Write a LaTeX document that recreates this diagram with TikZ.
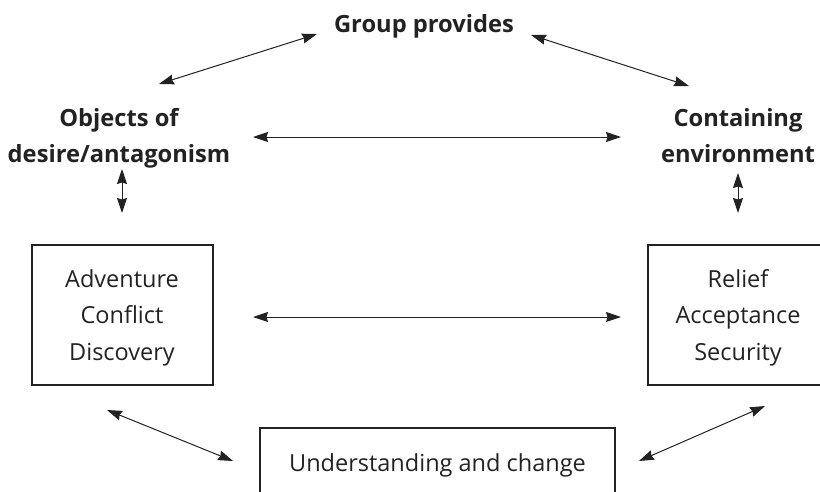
\documentclass[tikz,border=0pt]{standalone}
\usepackage{fontspec}
\setmainfont{Open Sans}
\usetikzlibrary{arrows.meta}
\definecolor{ink}{HTML}{222222}
\begin{document}
\begin{tikzpicture}[x=1pt,y=-1pt,
  lbl/.style={font=\fontsize{23.5}{36.5}\selectfont, text=ink, align=center, inner sep=0pt, anchor=base},
  hd/.style={lbl, font=\fontsize{23.7}{36}\selectfont\bfseries},
  boxed/.style={draw=ink, line width=1.1pt},
  link/.style={{Stealth[length=15pt,width=10pt,inset=1.5pt]}-{Stealth[length=15pt,width=10pt,inset=1.5pt]}, draw=ink, line width=1pt}]
\useasboundingbox (0,0) rectangle (820,491);
% headings (anchor base = baseline of the last line)
\node[hd] (grp) at (424,32) {Group provides};
\node[hd] (obj) at (119,162) {Objects of\\desire/antagonism};
\node[hd] (con) at (738,162) {Containing\\environment};
% boxes
\draw[boxed] (32,245) rectangle (213,385);
\node[lbl] (adv) at (122,360) {Adventure\\Conflict\\Discovery};
\draw[boxed] (648,245) rectangle (840,385);
\node[lbl] (rel) at (738,360) {Relief\\Acceptance\\Security};
\draw[boxed] (260,428) rectangle (615,510);
\node[lbl] (und) at (437.5,471) {Understanding and change};
% arrow end points
\coordinate (a1) at (159,84);  \coordinate (a2) at (317,34);
\coordinate (b1) at (531,35);  \coordinate (b2) at (689,86);
\coordinate (c1) at (253,137); \coordinate (c2) at (621,137);
\coordinate (d1) at (122,169); \coordinate (d2) at (122,213);
\coordinate (e1) at (738,173); \coordinate (e2) at (738,213);
\coordinate (f1) at (253,317); \coordinate (f2) at (621,317);
\coordinate (g1) at (107,410); \coordinate (g2) at (233,461);
\coordinate (h1) at (639,461); \coordinate (h2) at (765,406);
\draw[link] (a1) -- (a2);
\draw[link] (b1) -- (b2);
\draw[link] (c1) -- (c2);
\draw[link] (d1) -- (d2);
\draw[link] (e1) -- (e2);
\draw[link] (f1) -- (f2);
\draw[link] (g1) -- (g2);
\draw[link] (h1) -- (h2);
\end{tikzpicture}
\end{document}
